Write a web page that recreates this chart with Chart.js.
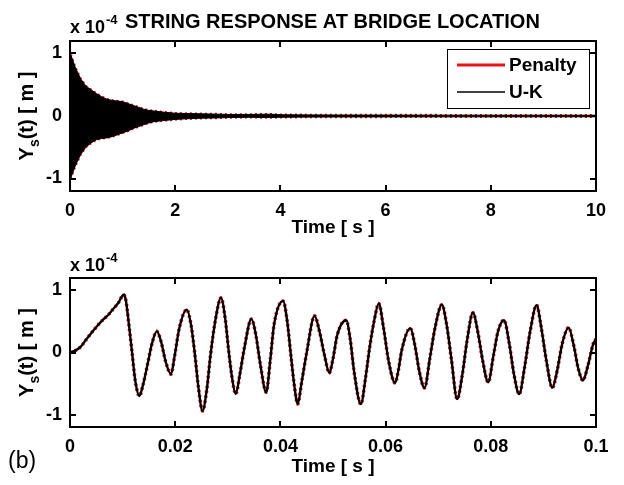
<!DOCTYPE html>
<html>
<head>
<meta charset="utf-8">
<script src="https://cdn.jsdelivr.net/npm/chart.js@4.4.1/dist/chart.umd.min.js"></script>
<style>
  body { margin: 0; background: #fff; }
  #wrap { position: relative; width: 624px; height: 485px; overflow: hidden; }
  #wrap canvas { position: absolute; left: 0; }
  #tag { position: absolute; left: 8px; top: 447px; font: 23px "Liberation Sans", Arial, sans-serif; color: #000; }
</style>
</head>
<body>
<div id="wrap">
  <canvas id="fullChart" width="624" height="252" style="top:0"></canvas>
  <canvas id="zoomChart" width="624" height="233" style="top:252px"></canvas>
  <div id="tag">(b)</div>
</div>
<script>
// full record, 0..10 s: upper / lower envelope of the response (x 1e-4 m)
const envTime = [0, 0.02, 0.1, 0.2, 0.3, 0.4, 0.5, 0.6, 0.7, 0.8, 0.9, 1.0, 1.1, 1.2, 1.3, 1.4, 1.5, 1.6, 1.8, 2.0, 2.2, 2.5, 2.8, 3.0, 3.4, 3.8, 4.0, 4.5, 5, 6, 7, 8, 9, 10];
const envUpper = [0.97, 0.97, 0.78, 0.60, 0.48, 0.42, 0.36, 0.31, 0.27, 0.25, 0.24, 0.23, 0.20, 0.17, 0.14, 0.11, 0.09, 0.08, 0.06, 0.045, 0.04, 0.035, 0.03, 0.025, 0.025, 0.03, 0.02, 0.018, 0.016, 0.015, 0.014, 0.013, 0.013, 0.012];
const envLower = [-1.0, -0.98, -0.80, -0.62, -0.50, -0.43, -0.38, -0.36, -0.35, -0.33, -0.30, -0.27, -0.24, -0.20, -0.17, -0.14, -0.11, -0.09, -0.07, -0.055, -0.045, -0.035, -0.03, -0.025, -0.02, -0.025, -0.02, -0.017, -0.015, -0.014, -0.013, -0.013, -0.012, -0.012];
const fullTicks = [0, 2, 4, 6, 8, 10];

// first 0.1 s of the response (x 1e-4 m)
const zoomTime = [0, 0.001, 0.002, 0.003, 0.0044, 0.0055, 0.0063, 0.0072, 0.0082, 0.0092, 0.0102, 0.0106, 0.0112, 0.0118, 0.0124, 0.0132, 0.0138, 0.0148, 0.0156, 0.0165, 0.0173, 0.0182, 0.0192, 0.0199, 0.0208, 0.0222, 0.023, 0.0237, 0.0244, 0.0252, 0.026, 0.0267, 0.0276, 0.0287, 0.0295, 0.0302, 0.0308, 0.0315, 0.0323, 0.0331, 0.0345, 0.0353, 0.0362, 0.0373, 0.0381, 0.0388, 0.0405, 0.0413, 0.042, 0.0426, 0.0433, 0.044, 0.045, 0.0465, 0.0474, 0.0484, 0.0493, 0.05, 0.0508, 0.0525, 0.0533, 0.054, 0.0553, 0.0562, 0.057, 0.0578, 0.0587, 0.0596, 0.0606, 0.0618, 0.0624, 0.0631, 0.0647, 0.0656, 0.0664, 0.0674, 0.0684, 0.0694, 0.0707, 0.0716, 0.0725, 0.0736, 0.0746, 0.0755, 0.0766, 0.0776, 0.0785, 0.0795, 0.0805, 0.0814, 0.0825, 0.0835, 0.0844, 0.0854, 0.0864, 0.0875, 0.0887, 0.0896, 0.0906, 0.0917, 0.0926, 0.0936, 0.0948, 0.0958, 0.0966, 0.0975, 0.0985, 0.0994, 0.1];
const zoomUK = [0, 0.03, 0.09, 0.20, 0.35, 0.46, 0.53, 0.60, 0.70, 0.80, 0.93, 0.85, 0.45, 0.0, -0.45, -0.70, -0.55, -0.17, 0.15, 0.34, 0.18, -0.15, -0.35, -0.05, 0.40, 0.69, 0.45, 0.0, -0.55, -0.94, -0.60, -0.05, 0.50, 0.88, 0.55, 0.0, -0.40, -0.67, -0.35, 0.05, 0.54, 0.30, -0.20, -0.64, -0.10, 0.45, 0.83, 0.50, -0.05, -0.50, -0.83, -0.50, 0.0, 0.59, 0.35, -0.05, -0.33, -0.10, 0.28, 0.52, 0.20, -0.30, -0.83, -0.40, 0.10, 0.50, 0.79, 0.40, -0.15, -0.49, -0.30, 0.05, 0.39, 0.10, -0.30, -0.57, -0.10, 0.40, 0.77, 0.45, -0.10, -0.75, -0.35, 0.20, 0.64, 0.30, -0.15, -0.48, -0.05, 0.35, 0.52, 0.15, -0.35, -0.67, -0.25, 0.35, 0.76, 0.40, -0.15, -0.57, -0.30, 0.15, 0.40, 0.10, -0.25, -0.45, -0.20, 0.12, 0.22];
const zoomTicks = [0, 0.02, 0.04, 0.06, 0.08, 0.1];

const yTicks = [-1, 0, 1];
const seriesNames = ['Penalty', 'U-K'];
const seriesColors = ['#e8141b', '#000000'];

const FONT = '"Liberation Sans", Arial, sans-serif';
const pts = (xs, ys) => xs.map((x, i) => ({ x: x, y: ys[i] }));

// box around the plot with inward ticks on all four sides, plus text decorations
const framePlugin = {
  id: 'frame',
  afterDatasetsDraw(chart, args, opts) {
    const { ctx, chartArea: a, scales: { x, y } } = chart;
    ctx.save();
    ctx.strokeStyle = '#000';
    ctx.lineWidth = 2;
    ctx.beginPath();
    x.ticks.forEach(t => {
      const px = Math.round(x.getPixelForValue(t.value));
      ctx.moveTo(px, a.bottom); ctx.lineTo(px, a.bottom - 6);
      ctx.moveTo(px, a.top); ctx.lineTo(px, a.top + 6);
    });
    y.ticks.forEach(t => {
      const py = Math.round(y.getPixelForValue(t.value));
      ctx.moveTo(a.left, py); ctx.lineTo(a.left + 6, py);
      ctx.moveTo(a.right, py); ctx.lineTo(a.right - 6, py);
    });
    ctx.stroke();
    ctx.strokeRect(a.left, a.top, a.right - a.left, a.bottom - a.top);

    ctx.fillStyle = '#000';
    ctx.textBaseline = 'alphabetic';

    // exponent note above the y axis
    ctx.textAlign = 'left';
    ctx.font = 'bold 18px ' + FONT;
    ctx.fillText('x 10', a.left, a.top - opts.expGap);
    const w10 = ctx.measureText('x 10').width;
    ctx.font = 'bold 13px ' + FONT;
    ctx.fillText('-4', a.left + w10 + 1, a.top - opts.expGap - 9);

    // y axis title: Y with subscript s
    ctx.translate(27, (a.top + a.bottom) / 2);
    ctx.rotate(-Math.PI / 2);
    ctx.font = 'bold 20px ' + FONT;
    const wY = ctx.measureText('Y').width;
    const wRest = ctx.measureText('(t) [ m ]').width;
    ctx.font = 'bold 14px ' + FONT;
    const wS = ctx.measureText('s').width;
    let sx = -(wY + wS + wRest) / 2;
    ctx.font = 'bold 20px ' + FONT;
    ctx.fillText('Y', sx, 6);
    ctx.font = 'bold 14px ' + FONT;
    ctx.fillText('s', sx + wY, 12);
    ctx.font = 'bold 20px ' + FONT;
    ctx.fillText('(t) [ m ]', sx + wY + wS, 6);
    ctx.setTransform(1, 0, 0, 1, 0, 0);

    if (opts.title) {
      ctx.textAlign = 'left';
      ctx.font = 'bold 20px ' + FONT;
      ctx.fillText(opts.title, 125, 28);
    }

    if (opts.legend) {
      const bx = 447, by = 49, bw = 142, bh = 59;
      ctx.fillStyle = '#fff';
      ctx.fillRect(bx, by, bw, bh);
      ctx.lineWidth = 1;
      ctx.strokeStyle = '#000';
      ctx.strokeRect(bx + 0.5, by + 0.5, bw, bh);
      ctx.textAlign = 'left';
      ctx.textBaseline = 'middle';
      ctx.font = 'bold 19px ' + FONT;
      seriesNames.forEach((name, i) => {
        const ly = by + 16 + i * 27;
        ctx.strokeStyle = seriesColors[i];
        ctx.lineWidth = i === 0 ? 3 : 1.5;
        ctx.beginPath();
        ctx.moveTo(bx + 10, ly); ctx.lineTo(bx + 58, ly);
        ctx.stroke();
        ctx.fillStyle = '#000';
        ctx.fillText(name, bx + 62, ly + 1);
      });
    }
    ctx.restore();
  }
};

function scalesFor(xTicks, xMin, xMax, xHeight, titlePad) {
  return {
    x: {
      type: 'linear', min: xMin, max: xMax,
      afterBuildTicks: s => { s.ticks = xTicks.map(v => ({ value: v })); },
      afterFit: s => { s.height = xHeight; },
      grid: { display: false, drawTicks: false },
      border: { display: false },
      ticks: { color: '#000', padding: 9, maxRotation: 0, font: { family: FONT, size: 18, weight: 'bold' }, callback: v => String(v) },
      title: { display: true, text: 'Time [ s ]', color: '#000', font: { family: FONT, size: 19, weight: 'bold' }, padding: { top: 0, bottom: titlePad } }
    },
    y: {
      type: 'linear', min: -1.2, max: 1.2,
      afterBuildTicks: s => { s.ticks = yTicks.map(v => ({ value: v })); },
      afterFit: s => { s.width = 70; },
      grid: { display: false, drawTicks: false },
      border: { display: false },
      ticks: { color: '#000', padding: 8, font: { family: FONT, size: 18, weight: 'bold' }, callback: v => String(v) }
    }
  };
}

const common = {
  responsive: false,
  animation: false,
  devicePixelRatio: 1,
  plugins: { legend: { display: false }, tooltip: { enabled: false } },
  elements: { point: { radius: 0 } }
};

new Chart(document.getElementById('fullChart'), {
  type: 'line',
  data: {
    datasets: [
      { label: 'U-K', data: pts(envTime, envUpper), borderColor: seriesColors[1], borderWidth: 1, backgroundColor: '#000', fill: '+1', order: 0 },
      { label: 'U-K lower', data: pts(envTime, envLower), borderColor: seriesColors[1], borderWidth: 1, fill: false, order: 0 },
      { label: 'Penalty', data: pts(envTime, envUpper), borderColor: seriesColors[0], borderWidth: 2.5, borderDash: [2, 3], fill: false, order: 1 },
      { label: 'Penalty lower', data: pts(envTime, envLower), borderColor: seriesColors[0], borderWidth: 2.5, borderDash: [2, 3], fill: false, order: 1 }
    ]
  },
  options: Object.assign({}, common, {
    layout: { padding: { top: 41, right: 28, left: 0, bottom: 0 } },
    scales: scalesFor(fullTicks, 0, 10, 61, 13),
    plugins: Object.assign({}, common.plugins, { frame: { title: 'STRING RESPONSE AT BRIDGE LOCATION', legend: true, expGap: 8 } })
  }),
  plugins: [framePlugin]
});

new Chart(document.getElementById('zoomChart'), {
  type: 'line',
  data: {
    datasets: [
      { label: 'U-K', data: pts(zoomTime, zoomUK), borderColor: seriesColors[1], borderWidth: 2.4, cubicInterpolationMode: 'monotone', fill: false, order: 0 },
      { label: 'Penalty', data: pts(zoomTime, zoomUK), borderColor: seriesColors[0], borderWidth: 3.6, borderDash: [2, 3], cubicInterpolationMode: 'monotone', fill: false, order: 1 }
    ]
  },
  options: Object.assign({}, common, {
    layout: { padding: { top: 26, right: 28, left: 0, bottom: 0 } },
    scales: scalesFor(zoomTicks, 0, 0.1, 58, 7),
    plugins: Object.assign({}, common.plugins, { frame: { legend: false, expGap: 7 } })
  }),
  plugins: [framePlugin]
});
</script>
</body>
</html>
